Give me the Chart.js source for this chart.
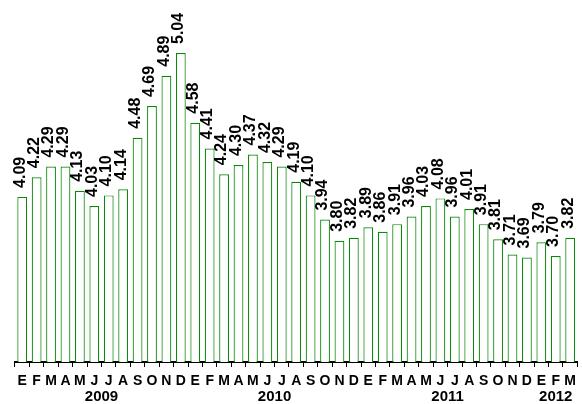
<!DOCTYPE html>
<html>
<head>
<meta charset="utf-8">
<script src="https://cdn.jsdelivr.net/npm/chart.js@4"></script>
<style>
  html, body { margin: 0; padding: 0; background: #fff; }
  #wrap { width: 582px; height: 404px; }
</style>
</head>
<body>
<div id="wrap"><canvas id="c"></canvas></div>
<script>
// --- Données ---
const months = ["E","F","M","A","M","J","J","A","S","O","N","D",
                "E","F","M","A","M","J","J","A","S","O","N","D",
                "E","F","M","A","M","J","J","A","S","O","N","D",
                "E","F","M"];
const years = ["2009", "2010", "2011", "2012"];
const yearSpans = [12, 12, 12, 3];
const values = [4.09, 4.22, 4.29, 4.29, 4.13, 4.03, 4.10, 4.14, 4.48, 4.69, 4.89, 5.04,
                4.58, 4.41, 4.24, 4.30, 4.37, 4.32, 4.29, 4.19, 4.10, 3.94, 3.80, 3.82,
                3.89, 3.86, 3.91, 3.96, 4.03, 4.08, 3.96, 4.01, 3.91, 3.81, 3.71, 3.69,
                3.79, 3.70, 3.82];

const FONT = "'Liberation Sans', Arial, sans-serif";

// --- Étiquettes verticales au-dessus des barres ---
const valueLabels = {
  id: 'valueLabels',
  afterDatasetsDraw(chart) {
    const ctx = chart.ctx;
    const meta = chart.getDatasetMeta(0);
    ctx.save();
    ctx.fillStyle = '#000';
    ctx.font = "bold 16px " + FONT;
    ctx.textAlign = 'left';
    ctx.textBaseline = 'middle';
    meta.data.forEach((bar, i) => {
      ctx.save();
      ctx.translate(bar.x - 2, bar.y - 9);
      ctx.rotate(-Math.PI / 2);
      ctx.fillText(values[i].toFixed(2), 0, 0);
      ctx.restore();
    });
    ctx.restore();
  }
};

// --- Années sous les mois ---
const yearLabels = {
  id: 'yearLabels',
  afterDraw(chart) {
    const ctx = chart.ctx;
    const x = chart.scales.x;
    ctx.save();
    ctx.fillStyle = '#000';
    ctx.font = "bold 15px " + FONT;
    ctx.textAlign = 'center';
    ctx.textBaseline = 'middle';
    let start = 0;
    years.forEach((y, k) => {
      const end = start + yearSpans[k] - 1;
      const cx = (x.getPixelForValue(start) + x.getPixelForValue(end)) / 2;
      ctx.fillText(y, cx, 397);
      start += yearSpans[k];
    });
    ctx.restore();
  }
};

new Chart(document.getElementById('c'), {
  type: 'bar',
  data: {
    labels: months,
    datasets: [{
      data: values,
      backgroundColor: '#fff',
      borderColor: '#0a8a0a',
      borderWidth: 1.2,
      borderSkipped: 'bottom',
      categoryPercentage: 1,
      barPercentage: 0.68
    }]
  },
  options: {
    responsive: true,
    maintainAspectRatio: false,
    animation: false,
    layout: { padding: { left: 15, right: 0, top: 0, bottom: 0 } },
    plugins: { legend: { display: false }, tooltip: { enabled: false } },
    scales: {
      x: {
        grid: { drawOnChartArea: false, drawTicks: true, tickLength: 5, color: '#000', offset: true },
        border: { color: '#000', width: 2 },
        ticks: {
          color: '#000',
          font: { family: FONT, size: 14, weight: 'bold' },
          padding: 6,
          maxRotation: 0,
          autoSkip: false
        },
        afterFit(scale) { scale.height = 42; }
      },
      y: {
        display: false,
        min: 3,
        max: 5.39
      }
    }
  },
  plugins: [valueLabels, yearLabels]
});
</script>
</body>
</html>
